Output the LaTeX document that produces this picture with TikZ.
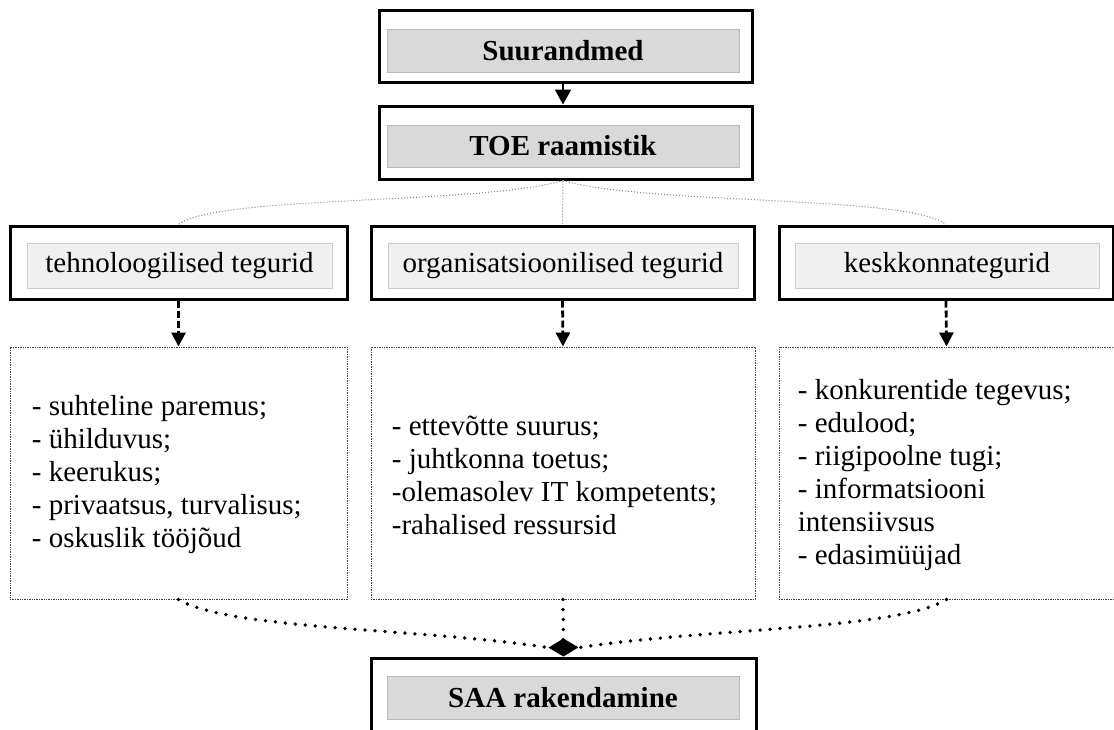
\documentclass[tikz,border=0pt]{standalone}
\usepackage{fontspec}
\setmainfont{Liberation Serif}
\usetikzlibrary{arrows.meta,calc}
\begin{document}
\begin{tikzpicture}[x=0.5pt,y=-0.5pt,
  frame/.style={draw=black,line width=1.5pt,fill=white,inner sep=0pt},
  titlebar/.style={draw=gray!55,line width=0.5pt,fill=black!15,inner sep=0pt,
    minimum width=176pt,minimum height=21.5pt,font=\fontsize{14.5}{16.5}\selectfont\bfseries},
  factorbar/.style={draw=gray!40,line width=0.5pt,fill=black!6,inner sep=0pt,
    minimum height=22.5pt,font=\fontsize{14.5}{16.5}\selectfont},
  listbox/.style={draw=black!75,line width=0.5pt,dash pattern=on 0.7pt off 0.5pt,
    inner sep=0pt,minimum height=126pt},
  listtext/.style={anchor=west,align=left,inner sep=0pt,font=\fontsize{14.5}{16.5}\selectfont},
  solidarrow/.style={line width=1pt,-{Triangle[length=7.5pt,width=8pt]}},
  dasharrow/.style={line width=1.4pt,dash pattern=on 3.5pt off 1.5pt,-{Triangle[length=7pt,width=7pt]}},
  thindots/.style={draw=gray,line width=0.5pt,dash pattern=on 0.5pt off 1pt},
  bigdots/.style={line width=1.9pt,line cap=round,dash pattern=on 0pt off 5pt},
]
\useasboundingbox (0,0) rectangle (1114,729);
\clip (0,0) rectangle (1114,729);

% top chain
\node[frame,minimum width=186.5pt,minimum height=36pt] (suur) at (565.5,46) {};
\node[titlebar] (suurbar) at (563,50.5) {Suurandmed};
\node[frame,minimum width=186.5pt,minimum height=36.5pt] (toe) at (565.5,142.5) {};
\node[titlebar,minimum height=21pt] (toebar) at (563,146) {TOE raamistik};

% factor groups
\node[frame,minimum width=168.5pt,minimum height=36.5pt] (ftech) at (178.5,262.5) {};
\node[factorbar,minimum width=152.5pt] (ftechbar) at (179.5,265.5) {tehnoloogilised tegurid};
\node[frame,minimum width=191.5pt,minimum height=36.5pt] (forg) at (562.5,262.5) {};
\node[factorbar,minimum width=175pt] (forgbar) at (563,265.5) {organisatsioonilised tegurid};
\node[frame,minimum width=167pt,minimum height=36.5pt] (fenv) at (946,262.5) {};
\node[factorbar,minimum width=152pt] (fenvbar) at (947,265.5) {keskkonnategurid};

% factor lists
\node[listbox,minimum width=168.5pt] (ltech) at (178.5,473) {};
\node[listbox,minimum width=192pt] (lorg) at (563,473) {};
\node[listbox,minimum width=167.5pt] (lenv) at (946.5,473) {};

\node[listtext] (ttech) at ($(ltech.west)+(22,2)$) {- suhteline paremus;\\- ühilduvus;\\- keerukus;\\- privaatsus, turvalisus;\\- oskuslik tööjõud};
\node[listtext] (torg) at ($(lorg.west)+(21,2)$) {- ettevõtte suurus;\\- juhtkonna toetus;\\-olemasolev IT kompetents;\\-rahalised ressursid};
\node[listtext] (tenv) at ($(lenv.west)+(19,2)$) {- konkurentide tegevus;\\- edulood;\\- riigipoolne tugi;\\- informatsiooni\\intensiivsus\\- edasimüüjad};

% result
\node[frame,minimum width=192.5pt,minimum height=50pt] (saa) at (563.5,708) {};
\node[titlebar] (saabar) at (563,697.5) {SAA rakendamine};

% connectors
\draw[solidarrow] (suurbar.south |- suur.south) -- (suurbar.south |- toe.north);
\coordinate (hub) at (toebar.south |- toe.south);
\draw[thindots] (hub) -- (forg.north);
\draw[thindots] (hub) .. controls (480,205) and (215,195) .. (ftech.north);
\draw[thindots] (hub) .. controls (646,205) and (911,195) .. (fenv.north);

\draw[dasharrow] (ftech.south) -- (ltech.north);
\draw[dasharrow] (forg.south) -- (lorg.north);
\draw[dasharrow] (fenv.south) -- (lenv.north);

\coordinate (joinL) at ($(saa.north)+(-16,-9)$);
\coordinate (joinR) at ($(saa.north)+(16,-9)$);
\draw[bigdots,-{Diamond[length=9pt,width=15pt]}] (lorg.south) -- (saa.north);
\draw[bigdots] (ltech.south) .. controls (230,630) and (420,628) .. (joinL);
\draw[bigdots] (lenv.south) .. controls (896,630) and (706,628) .. (joinR);
\end{tikzpicture}
\end{document}
